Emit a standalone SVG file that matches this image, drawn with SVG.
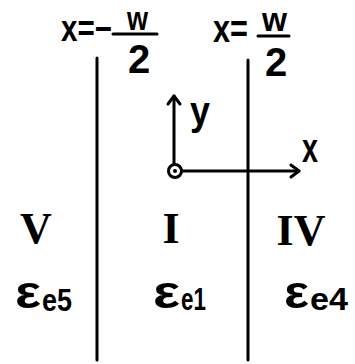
<svg xmlns="http://www.w3.org/2000/svg" width="355" height="364" viewBox="0 0 355 364">
<defs>
<style>
.ln{stroke:#000;stroke-width:3;fill:none;stroke-linecap:round;stroke-linejoin:round}
.t{font-family:"Liberation Sans",Arial,sans-serif;font-weight:bold;fill:#000}
.r{font-family:"Liberation Serif","Times New Roman",serif;font-weight:bold;fill:#000}
</style>
</defs>
<rect width="355" height="364" fill="#fff"/>
<g id="boundary-left">
<line class="ln" x1="97" y1="58" x2="97" y2="360"/>
<text class="t" x="61" y="41" font-size="37" textLength="51" lengthAdjust="spacingAndGlyphs">x=−</text>
<text class="t" x="127" y="30" font-size="33" textLength="21" lengthAdjust="spacingAndGlyphs">w</text>
<line class="ln" x1="113" y1="34" x2="157" y2="34"/>
<text class="t" x="139" y="73" font-size="40" text-anchor="middle">2</text>
</g>
<g id="boundary-right">
<line class="ln" x1="248" y1="60" x2="248" y2="360"/>
<text class="t" x="213" y="42" font-size="38" textLength="35" lengthAdjust="spacingAndGlyphs">x=</text>
<text class="t" x="262" y="31" font-size="34" textLength="25" lengthAdjust="spacingAndGlyphs">w</text>
<line class="ln" x1="258" y1="36" x2="289" y2="36"/>
<text class="t" x="276" y="76" font-size="40" text-anchor="middle">2</text>
</g>
<g id="connectors">
<line class="ln" x1="174" y1="163" x2="174" y2="96"/>
<polyline class="ln" points="168,104 174,96 180,104"/>
<line class="ln" x1="183" y1="171" x2="299" y2="171"/>
<polyline class="ln" points="291,165 299,171 291,177"/>
</g>
<g id="origin">
<circle cx="175" cy="171" r="6.5" fill="#fff" stroke="#000" stroke-width="3"/>
<circle cx="175" cy="171" r="2" fill="#000"/>
</g>
<g id="axis-labels">
<text class="t" x="190" y="125" font-size="40" textLength="20" lengthAdjust="spacingAndGlyphs">y</text>
<text class="t" x="302" y="162" font-size="40" textLength="16" lengthAdjust="spacingAndGlyphs">x</text>
</g>
<g id="region-V">
<text class="r" x="36" y="243" font-size="44" text-anchor="middle">V</text>
<text class="t" x="15" y="308" font-size="46" textLength="26" lengthAdjust="spacingAndGlyphs">ε</text>
<text class="t" x="42" y="311" font-size="32" textLength="30" lengthAdjust="spacingAndGlyphs">e5</text>
</g>
<g id="region-I">
<text class="r" x="171" y="243" font-size="44" text-anchor="middle">I</text>
<text class="t" x="153" y="308" font-size="46" textLength="27" lengthAdjust="spacingAndGlyphs">ε</text>
<text class="t" x="181" y="310" font-size="32" textLength="25" lengthAdjust="spacingAndGlyphs">e1</text>
</g>
<g id="region-IV">
<text class="r" x="301" y="245" font-size="44" text-anchor="middle">IV</text>
<text class="t" x="284" y="308" font-size="46" textLength="25" lengthAdjust="spacingAndGlyphs">ε</text>
<text class="t" x="310" y="310" font-size="32" textLength="38" lengthAdjust="spacingAndGlyphs">e4</text>
</g>
</svg>
